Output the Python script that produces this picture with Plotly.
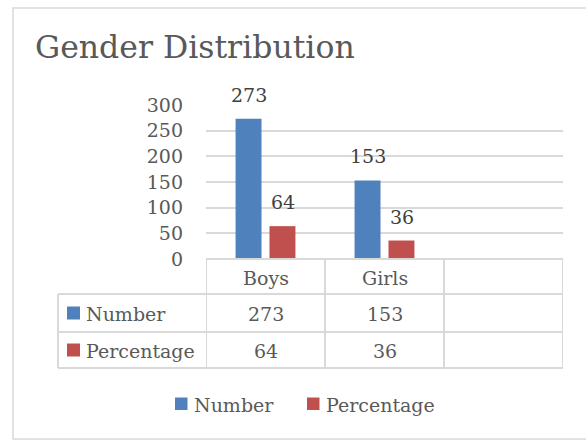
import plotly.graph_objects as go

# ---- data ----
categories = ["Boys", "Girls"]
number_values = [273, 153]
percentage_values = [64, 36]
series_names = ["Number", "Percentage"]
y_ticks = [0, 50, 100, 150, 200, 250, 300]
title_text = "Gender Distribution"

BLUE = "#4F81BD"
RED = "#C0504D"
GRID = "#D9D9D9"
TXT = "#595959"
FONT = "DejaVu Serif"

W, H = 586, 442
ML, MR, MT, MB = 206, 23, 105, 183
PW, PH = W - ML - MR, H - MT - MB


def px(x):
    return (x - ML) / PW


def py(y):
    return (H - MB - y) / PH


fig = go.Figure()
series = [number_values, percentage_values]
colors = [BLUE, RED]
for name, vals, col in zip(series_names, series, colors):
    fig.add_trace(go.Bar(x=categories, y=vals, name=name, marker_color=col,
                         marker_line_width=0))

fig.update_layout(
    width=W, height=H,
    margin=dict(l=ML, r=MR, t=MT, b=MB),
    paper_bgcolor="white", plot_bgcolor="white",
    barmode="group", bargap=0.43, bargroupgap=0.235,
    font=dict(family=FONT, size=19, color=TXT),
    showlegend=False,
    xaxis=dict(type="category", range=[-0.5, len(categories) + 0.5],
               showticklabels=False, showgrid=False, zeroline=False,
               showline=False, ticks=""),
    yaxis=dict(range=[0, 300], tickvals=y_ticks, showgrid=True,
               gridcolor=GRID, gridwidth=1.5, zeroline=False, showline=False,
               ticks="", ticklabelstandoff=22,
               tickfont=dict(size=19, color=TXT)),
)

shapes = []
annotations = []

# chart border
shapes.append(dict(type="rect", xref="paper", yref="paper",
                   x0=px(13), x1=px(592), y0=py(439), y1=py(8),
                   line=dict(color=GRID, width=1.5)))

# title
annotations.append(dict(text=title_text, xref="paper", yref="paper",
                        x=px(33), y=py(47), xanchor="left", yanchor="middle",
                        showarrow=False, font=dict(size=31.5, color=TXT, family=FONT)))

# bar labels
offsets = [-17, 17]
for vals, off in zip(series, offsets):
    for c, v in zip(categories, vals):
        annotations.append(dict(text=str(v), x=c, y=v, xref="x", yref="y",
                                xshift=off, yshift=11, yanchor="bottom",
                                showarrow=False,
                                font=dict(size=19, color="#404040", family=FONT)))

# data table
row_y = [259, 294, 332, 368]
table_left = 58
ncols = len(categories) + 1
col_edges = [i - 0.5 for i in range(ncols + 1)]
shapes.append(dict(type="line", xref="x", yref="paper",
                   x0=col_edges[0], x1=col_edges[-1], y0=py(row_y[0]), y1=py(row_y[0]),
                   line=dict(color=GRID, width=2)))
for yy in row_y[1:]:
    shapes.append(dict(type="line", xref="paper", yref="paper",
                       x0=px(table_left), x1=1, y0=py(yy), y1=py(yy),
                       line=dict(color=GRID, width=2)))
for xe in col_edges:
    shapes.append(dict(type="line", xref="x", yref="paper",
                       x0=xe, x1=xe, y0=py(row_y[0]), y1=py(row_y[-1]),
                       line=dict(color=GRID, width=2)))
shapes.append(dict(type="line", xref="paper", yref="paper",
                   x0=px(table_left), x1=px(table_left), y0=py(row_y[1]), y1=py(row_y[-1]),
                   line=dict(color=GRID, width=2)))

for c in categories:
    annotations.append(dict(text=c, x=c, xref="x", yref="paper",
                            y=py((row_y[0] + row_y[1]) / 2 + 1), yanchor="middle",
                            showarrow=False, font=dict(size=19, color=TXT, family=FONT)))
for i, (name, vals, col) in enumerate(zip(series_names, series, colors)):
    ytop, ybot = row_y[i + 1], row_y[i + 2]
    ymid = (ytop + ybot) / 2
    shapes.append(dict(type="rect", xref="paper", yref="paper",
                       x0=px(67), x1=px(80), y0=py(ymid + 6.5), y1=py(ymid - 6.5),
                       fillcolor=col, line=dict(width=0)))
    annotations.append(dict(text=name, xref="paper", yref="paper", x=px(84),
                            y=py(ymid + 1), xanchor="left", yanchor="middle",
                            showarrow=False, font=dict(size=19, color=TXT, family=FONT)))
    for c, v in zip(categories, vals):
        annotations.append(dict(text=str(v), x=c, xref="x", yref="paper",
                                y=py(ymid + 1), yanchor="middle", showarrow=False,
                                font=dict(size=19, color=TXT, family=FONT)))

# bottom legend
legend_sq_x = [175, 307]
legend_y = 404
for name, col, x0 in zip(series_names, colors, legend_sq_x):
    shapes.append(dict(type="rect", xref="paper", yref="paper",
                       x0=px(x0), x1=px(x0 + 12.5), y0=py(legend_y + 6), y1=py(legend_y - 6.5),
                       fillcolor=col, line=dict(width=0)))
    annotations.append(dict(text=name, xref="paper", yref="paper", x=px(x0 + 17),
                            y=py(legend_y + 1), xanchor="left", yanchor="middle",
                            showarrow=False, font=dict(size=19, color=TXT, family=FONT)))

fig.update_layout(shapes=shapes, annotations=annotations)
fig.write_html("out.html", config={"displayModeBar": False},
               post_script="document.body.style.margin='0';")
